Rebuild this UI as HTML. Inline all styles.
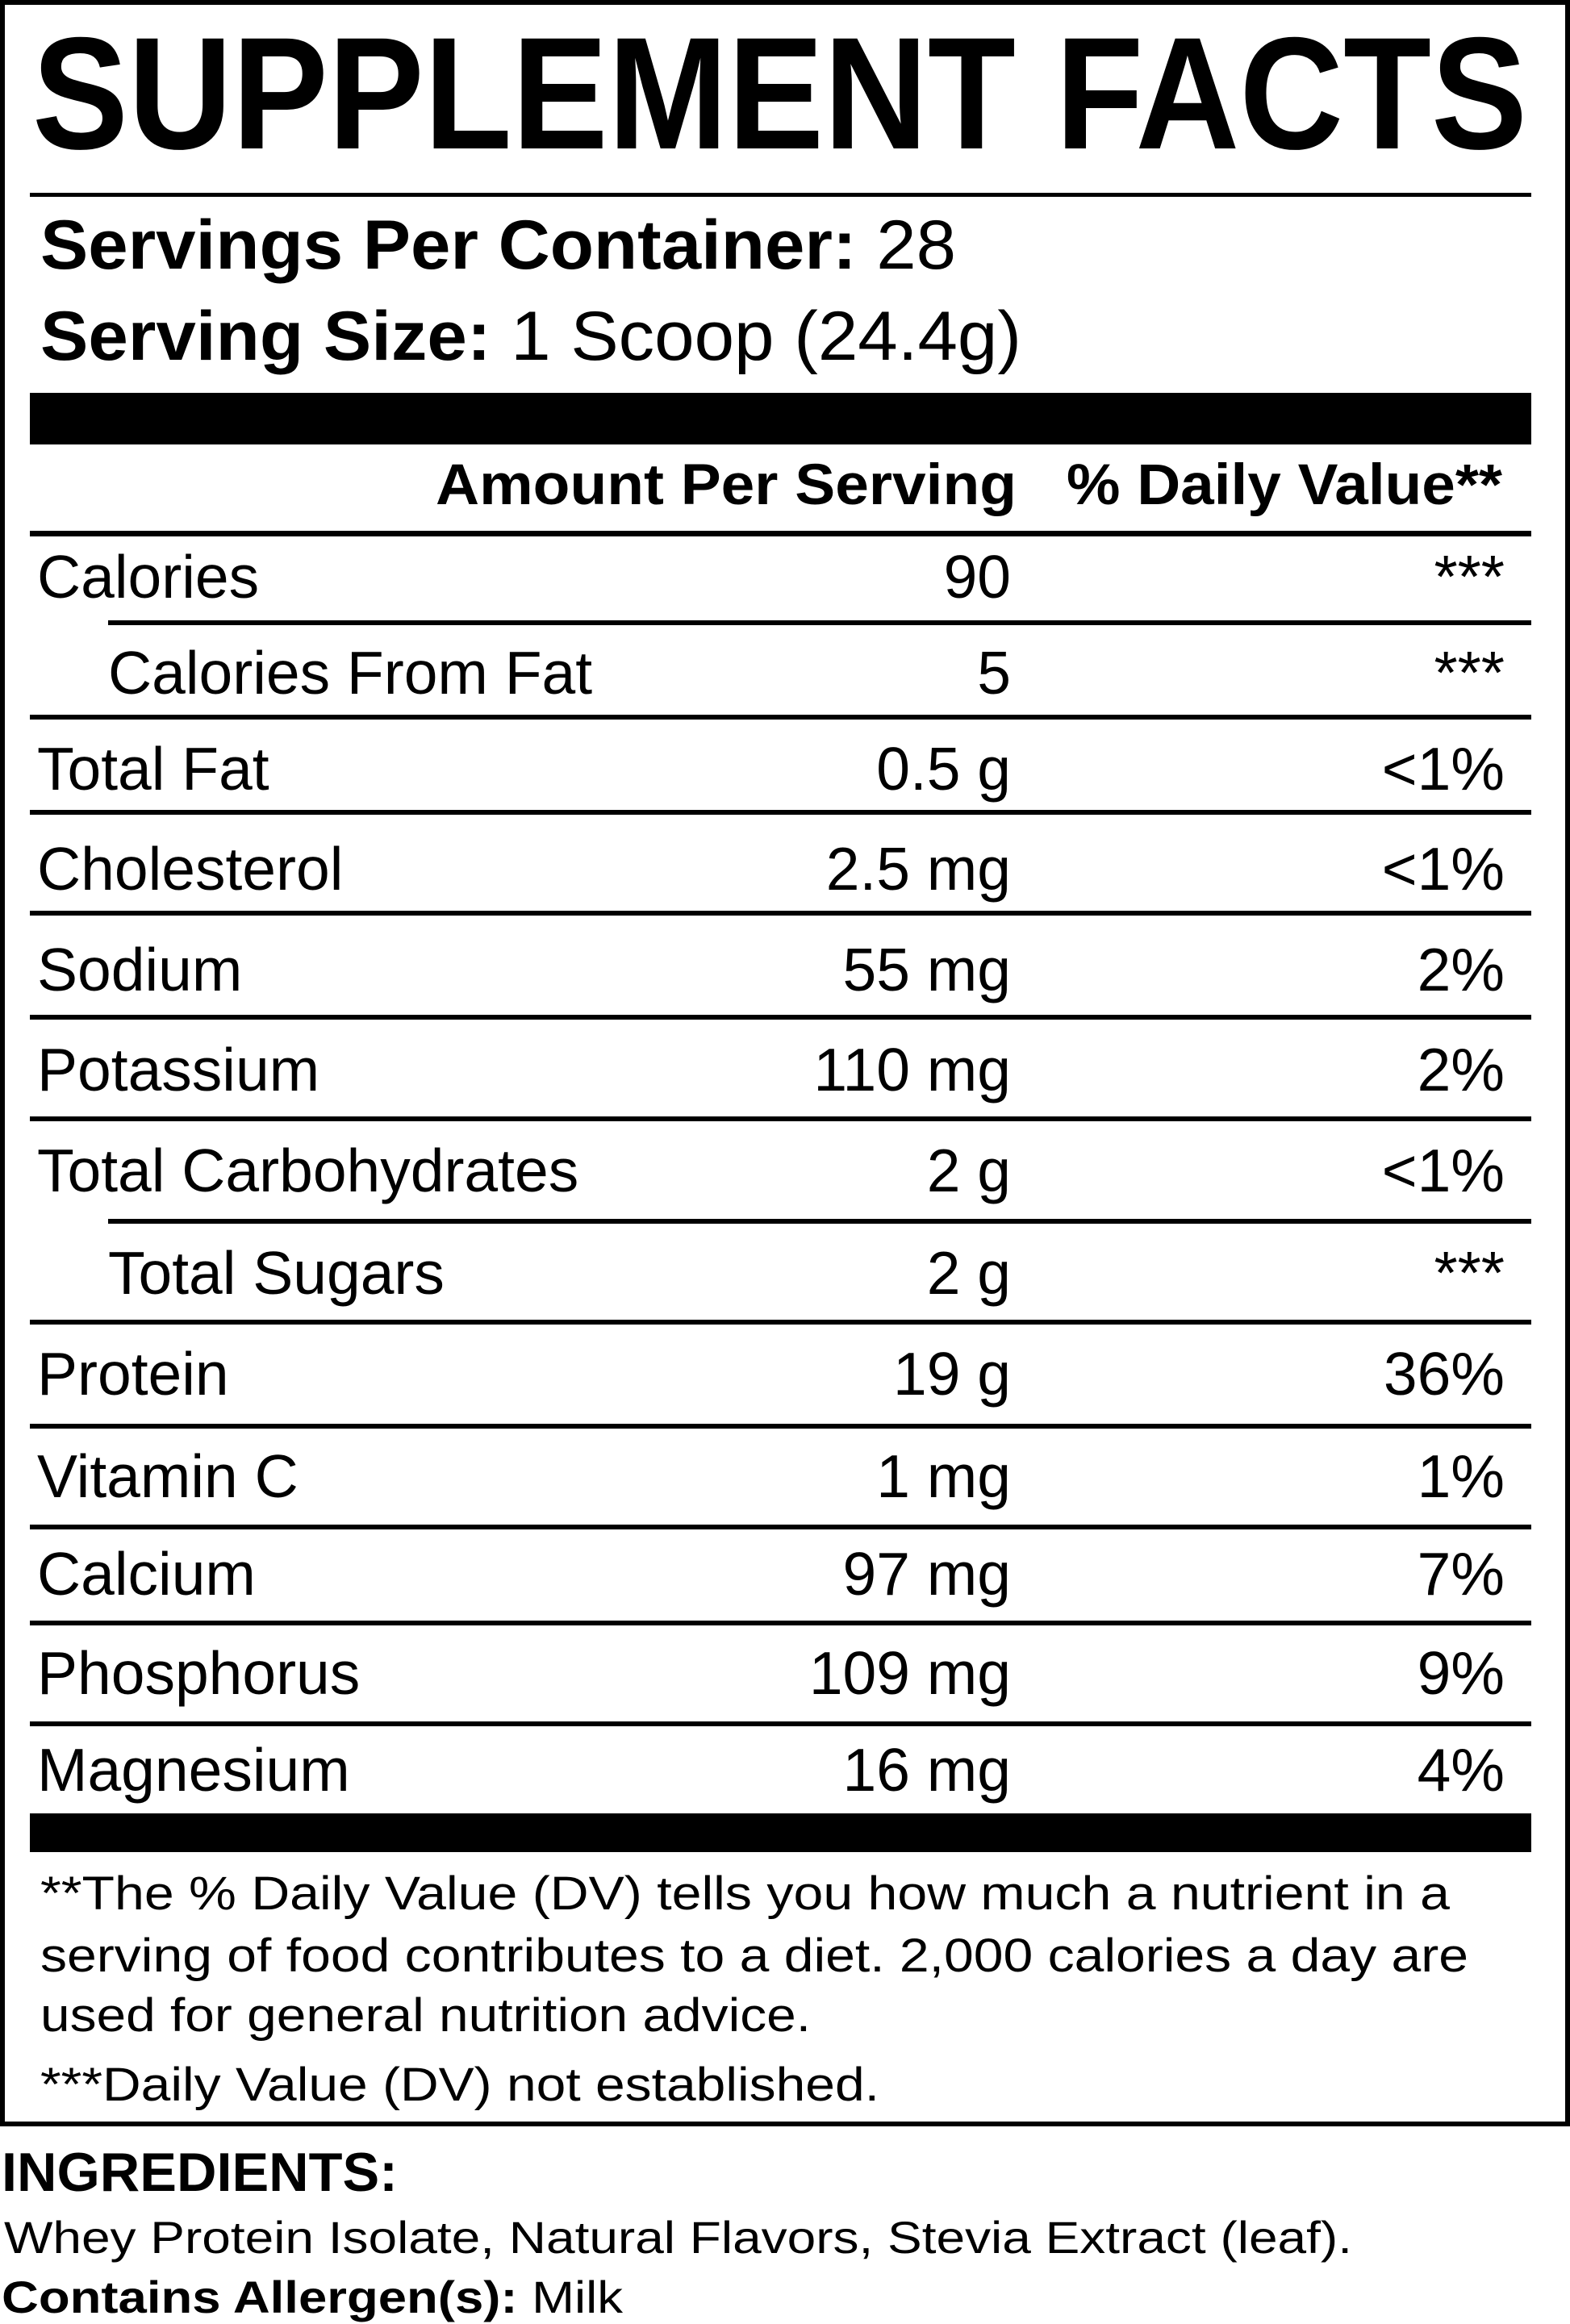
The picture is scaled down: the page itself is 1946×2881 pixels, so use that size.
<!DOCTYPE html>
<html><head><meta charset="utf-8"><style>
html,body{margin:0;padding:0;background:#fff;}
svg{display:block;}
text{font-family:"Liberation Sans",Arial,sans-serif;fill:#000;}
.b{font-weight:bold;}
.r{font-size:75px;}
</style></head><body>
<svg width="1946" height="2881" viewBox="0 0 1946 2881" xmlns="http://www.w3.org/2000/svg">
<rect x="3" y="3" width="1940" height="2630" fill="none" stroke="#000" stroke-width="6"/>
<text class="b" x="40" y="184" font-size="198" textLength="1853" lengthAdjust="spacingAndGlyphs">SUPPLEMENT FACTS</text>
<rect x="37" y="239" width="1861" height="5"/>
<text x="50" y="333" font-size="86" textLength="1135" lengthAdjust="spacingAndGlyphs"><tspan class="b">Servings Per Container:</tspan> 28</text>
<text x="50" y="446" font-size="86" textLength="1216" lengthAdjust="spacingAndGlyphs"><tspan class="b">Serving Size:</tspan> 1 Scoop (24.4g)</text>
<rect x="37" y="487" width="1861" height="64"/>
<text class="b" x="1260" y="625" font-size="71" text-anchor="end" textLength="720" lengthAdjust="spacingAndGlyphs">Amount Per Serving</text>
<text class="b" x="1862" y="625" font-size="71" text-anchor="end" textLength="540" lengthAdjust="spacingAndGlyphs">% Daily Value**</text>
<rect x="37" y="658" width="1861" height="7"/>
<g class="r">
<text x="46" y="741">Calories</text><text x="1253" y="741" text-anchor="end">90</text><text x="1865" y="741" text-anchor="end">***</text>
<rect x="134" y="769" width="1764" height="6"/>
<text x="134" y="860">Calories From Fat</text><text x="1253" y="860" text-anchor="end">5</text><text x="1865" y="860" text-anchor="end">***</text>
<rect x="37" y="886" width="1861" height="6"/>
<text x="46" y="979">Total Fat</text><text x="1253" y="979" text-anchor="end">0.5 g</text><text x="1865" y="979" text-anchor="end">&lt;1%</text>
<rect x="37" y="1004" width="1861" height="6"/>
<text x="46" y="1103">Cholesterol</text><text x="1253" y="1103" text-anchor="end">2.5 mg</text><text x="1865" y="1103" text-anchor="end">&lt;1%</text>
<rect x="37" y="1129" width="1861" height="6"/>
<text x="46" y="1228">Sodium</text><text x="1253" y="1228" text-anchor="end">55 mg</text><text x="1865" y="1228" text-anchor="end">2%</text>
<rect x="37" y="1258" width="1861" height="6"/>
<text x="46" y="1352">Potassium</text><text x="1253" y="1352" text-anchor="end">110 mg</text><text x="1865" y="1352" text-anchor="end">2%</text>
<rect x="37" y="1384" width="1861" height="6"/>
<text x="46" y="1477">Total Carbohydrates</text><text x="1253" y="1477" text-anchor="end">2 g</text><text x="1865" y="1477" text-anchor="end">&lt;1%</text>
<rect x="134" y="1511" width="1764" height="6"/>
<text x="134" y="1604">Total Sugars</text><text x="1253" y="1604" text-anchor="end">2 g</text><text x="1865" y="1604" text-anchor="end">***</text>
<rect x="37" y="1636" width="1861" height="6"/>
<text x="46" y="1729">Protein</text><text x="1253" y="1729" text-anchor="end">19 g</text><text x="1865" y="1729" text-anchor="end">36%</text>
<rect x="37" y="1765" width="1861" height="6"/>
<text x="46" y="1856">Vitamin C</text><text x="1253" y="1856" text-anchor="end">1 mg</text><text x="1865" y="1856" text-anchor="end">1%</text>
<rect x="37" y="1890" width="1861" height="6"/>
<text x="46" y="1977">Calcium</text><text x="1253" y="1977" text-anchor="end">97 mg</text><text x="1865" y="1977" text-anchor="end">7%</text>
<rect x="37" y="2009" width="1861" height="6"/>
<text x="46" y="2100">Phosphorus</text><text x="1253" y="2100" text-anchor="end">109 mg</text><text x="1865" y="2100" text-anchor="end">9%</text>
<rect x="37" y="2134" width="1861" height="6"/>
<text x="46" y="2220">Magnesium</text><text x="1253" y="2220" text-anchor="end">16 mg</text><text x="1865" y="2220" text-anchor="end">4%</text>
</g>
<rect x="37" y="2248" width="1861" height="48"/>
<text x="50" y="2367" font-size="58" textLength="1747" lengthAdjust="spacingAndGlyphs">**The % Daily Value (DV) tells you how much a nutrient in a</text>
<text x="50" y="2444" font-size="58" textLength="1770" lengthAdjust="spacingAndGlyphs">serving of food contributes to a diet. 2,000 calories a day are</text>
<text x="50" y="2518" font-size="58" textLength="955" lengthAdjust="spacingAndGlyphs">used for general nutrition advice.</text>
<text x="50" y="2604" font-size="58" textLength="1040" lengthAdjust="spacingAndGlyphs">***Daily Value (DV) not established.</text>
<text class="b" x="2" y="2716" font-size="68" textLength="491" lengthAdjust="spacingAndGlyphs">INGREDIENTS:</text>
<text x="5" y="2793" font-size="56" textLength="1671" lengthAdjust="spacingAndGlyphs">Whey Protein Isolate, Natural Flavors, Stevia Extract (leaf).</text>
<text x="2" y="2867" font-size="56" textLength="770" lengthAdjust="spacingAndGlyphs"><tspan class="b">Contains Allergen(s):</tspan> Milk</text>
</svg>
</body></html>
